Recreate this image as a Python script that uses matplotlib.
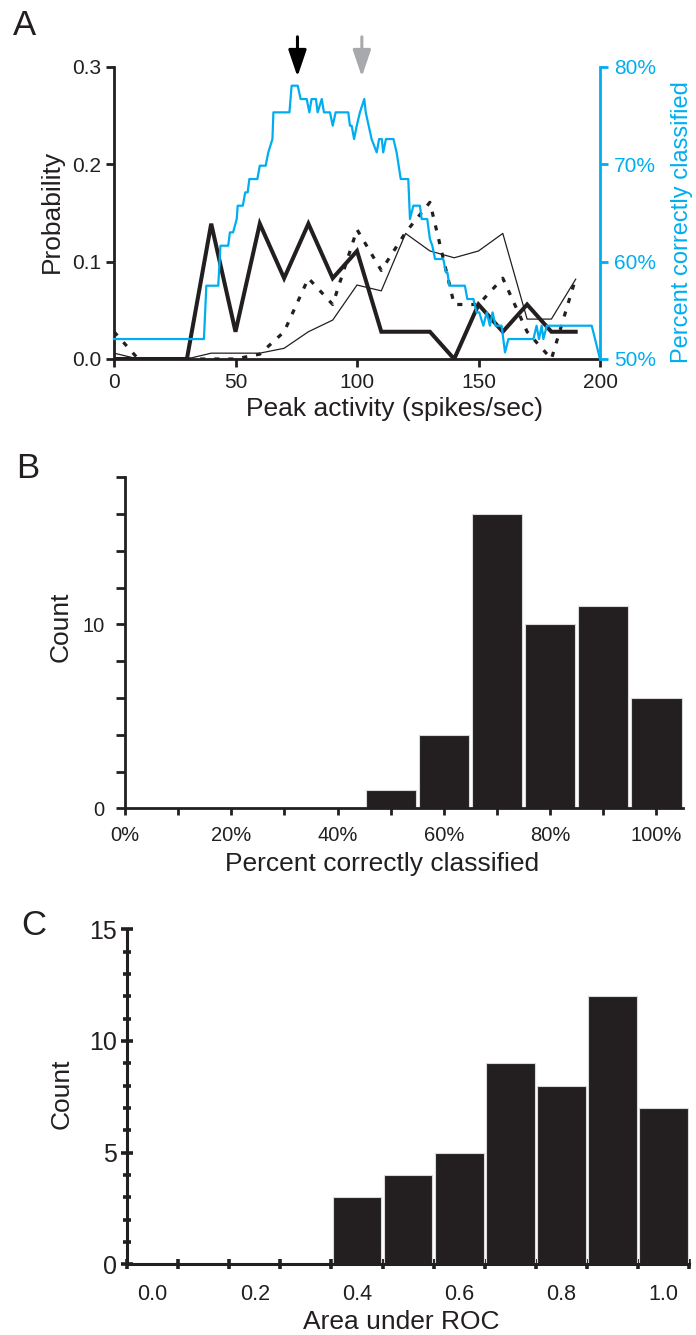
import matplotlib
matplotlib.use("Agg")
import matplotlib.pyplot as plt
import numpy as np

plt.rcParams['font.family'] = ['Liberation Sans', 'DejaVu Sans']

# ---------------- data ----------------
# Panel A: probability distributions (x = peak activity, spikes/sec)
rate_bins = [0, 10, 20, 30, 40, 50, 60, 70, 80, 90, 100, 110, 120, 130, 140, 150, 160, 170, 180, 190]
prob_thick = [0, 0, 0, 0, 0.139, 0.028, 0.139, 0.083, 0.139, 0.083, 0.111, 0.028, 0.028, 0.028, 0, 0.056, 0.028, 0.056, 0.028, 0.028]
prob_dotted = [0.028, 0, 0, 0, 0, 0, 0.005, 0.028, 0.083, 0.056, 0.133, 0.091, 0.13, 0.161, 0.056, 0.056, 0.083, 0.028, 0, 0.083]
prob_thin = [0.006, 0, 0, 0, 0.006, 0.006, 0.006, 0.011, 0.028, 0.04, 0.076, 0.07, 0.129, 0.111, 0.104, 0.111, 0.129, 0.041, 0.041, 0.082]

# Panel A: percent correctly classified vs threshold
thresh_x = [0, 37, 38, 42.9, 43.8, 47, 47.7, 49, 50.5, 50.9, 53, 54, 55, 55.7, 59, 60, 62.4, 63.5, 65.2, 65.6,
            72.2, 73.1, 75.6, 76.8, 79.3, 80.4, 81.3, 83.1, 83.8, 85.5, 86.4, 88.9, 90.0, 91.2, 96.4, 97.1, 97.8,
            98.8, 99.9, 101.2, 103.0, 103.6, 106.0, 108.1, 109.1, 110.2, 110.8, 111.9, 115.0, 116.3, 118.0, 121.1,
            121.8, 123.2, 125.9, 126.6, 128.9, 130.0, 131.0, 132.1, 135.5, 136.6, 137.2, 138.0, 144.4, 145.4, 147.9,
            149.2, 150.3, 152.0, 153.4, 154.7, 155.8, 157.0, 159.5, 160.9, 162.3, 172.6, 173.9, 174.9, 176.0, 176.7,
            178.1, 196.6, 200.0]
pct_correct = [52.05, 52.05, 57.53, 57.53, 61.64, 61.64, 63.01, 63.01, 64.38, 65.75, 65.75, 67.12, 67.12, 68.49,
               68.49, 69.86, 69.86, 71.23, 72.60, 75.34, 75.34, 78.08, 78.08, 76.71, 76.71, 75.34, 76.71, 76.71,
               75.34, 76.71, 75.34, 75.34, 73.97, 75.34, 75.34, 73.97, 73.97, 72.60, 73.97, 75.34, 76.71, 75.34,
               72.60, 71.23, 72.60, 72.60, 71.23, 72.60, 72.60, 71.23, 68.49, 68.49, 64.38, 65.75, 65.75, 64.38,
               64.38, 62.33, 61.64, 60.27, 60.27, 58.90, 58.90, 57.53, 57.53, 56.16, 56.16, 54.79, 54.79, 53.42,
               54.79, 53.42, 54.79, 53.42, 53.42, 50.68, 52.05, 52.05, 53.42, 52.05, 53.42, 52.05, 53.42, 53.42, 50.00]
arrow_black_x = 75.5
arrow_gray_x = 102.0

# Panel B histogram
pcc_centers = [50, 60, 70, 80, 90, 100]
pcc_counts = [1, 4, 16, 10, 11, 6]

# Panel C histogram
auc_centers = [0.4, 0.5, 0.6, 0.7, 0.8, 0.9, 1.0]
auc_counts = [3, 4, 5, 9, 8, 12, 7]

# ---------------- style ----------------
BLACK = '#231f20'
BLUE = '#00aeef'
GRAY = '#a7a9ac'
W, H = 696, 1335

fig = plt.figure(figsize=(W / 100, H / 100), dpi=100)


def rect(l, t, r, b):
    return [l / W, 1 - b / H, (r - l) / W, (b - t) / H]


# ---------------- Panel A ----------------
ax = fig.add_axes(rect(114, 67, 600, 359))
ax.plot(rate_bins, prob_thin, color=BLACK, lw=0.9, zorder=2)
ax.plot(rate_bins, prob_dotted, color=BLACK, lw=2.3, linestyle=(0, (1.6, 2.8)), dash_capstyle='butt', zorder=2)
ax.plot(rate_bins, prob_thick, color=BLACK, lw=2.9, solid_joinstyle='miter', zorder=2)
ax.set_xlim(0, 200)
ax.set_ylim(0, 0.3)
ax.set_xticks([0, 50, 100, 150, 200])
ax.set_yticks([0, 0.1, 0.2, 0.3])
ax.set_yticklabels(['0.0', '0.1', '0.2', '0.3'])
for s in ['top', 'right']:
    ax.spines[s].set_visible(False)
for s in ['left', 'bottom']:
    ax.spines[s].set_linewidth(2.0)
    ax.spines[s].set_color(BLACK)
ax.tick_params(axis='both', direction='out', length=6, width=2.0, colors=BLACK, labelsize=15, pad=3)
ax.tick_params(axis='x', pad=4)
ax.set_xlabel('Peak activity (spikes/sec)', fontsize=19, color=BLACK, va='baseline')
ax.xaxis.set_label_coords((394 - 114) / 486, (359 - 416) / 292)
ax.set_ylabel('Probability', fontsize=19, color=BLACK, va='baseline')
ax.yaxis.set_label_coords((59 - 114) / 486, (359 - 211) / 292)

ax2 = ax.twinx()
ax2.plot(thresh_x, pct_correct, color=BLUE, lw=1.6, clip_on=False, zorder=3)
ax2.set_ylim(50, 80)
ax2.set_yticks([50, 60, 70, 80])
ax2.set_yticklabels(['50%', '60%', '70%', '80%'])
for s in ['top', 'left', 'bottom']:
    ax2.spines[s].set_visible(False)
ax2.spines['right'].set_color(BLUE)
ax2.spines['right'].set_linewidth(2.0)
ax2.tick_params(axis='y', direction='out', length=6, width=2.0, colors=BLUE, labelsize=15, pad=4)
ax2.set_ylabel('Percent correctly classified', fontsize=17, color=BLUE, va='baseline', rotation=90)
ax2.yaxis.set_label_coords((688 - 114) / 486, (359 - 222) / 292)

for xa, col in [(arrow_black_x, 'black'), (arrow_gray_x, GRAY)]:
    ax.annotate('', xy=(xa, 0.290), xytext=(xa, 0.331), xycoords='data', textcoords='data',
                arrowprops=dict(arrowstyle='-|>,head_length=0.65,head_width=0.22', mutation_scale=25,
                                lw=2.2, color=col, shrinkA=0, shrinkB=0),
                annotation_clip=False)

fig.text(13 / W, 1 - 35 / H, 'A', fontsize=25, color=BLACK, ha='left', va='baseline')

# ---------------- Panel B ----------------
bx = fig.add_axes(rect(125, 477.3, 683, 808.3))
bx.bar(pcc_centers, pcc_counts, width=9.45, color=BLACK, edgecolor='#d9d9d9', linewidth=0.8, zorder=2)
bx.set_xlim(0, 105)
bx.set_ylim(0, 18)
bx.set_xticks(np.arange(0, 101, 10))
bx.set_xticklabels(['0%', '', '20%', '', '40%', '', '60%', '', '80%', '', '100%'])
bx.set_yticks(np.arange(0, 19, 2))
bx.set_yticklabels(['0', '', '', '', '', '10', '', '', '', ''])
for s in ['top', 'right']:
    bx.spines[s].set_visible(False)
for s in ['left', 'bottom']:
    bx.spines[s].set_linewidth(2.0)
    bx.spines[s].set_color(BLACK)
bx.tick_params(axis='y', direction='out', length=6.5, width=2.0, colors=BLACK, labelsize=14.5, pad=8)
bx.tick_params(axis='x', direction='out', length=5, width=2.0, colors=BLACK, labelsize=14.5, pad=8)
bx.set_xlabel('Percent correctly classified', fontsize=19, color=BLACK, va='baseline')
bx.xaxis.set_label_coords((382 - 125) / 558, (808.3 - 871) / 331)
bx.set_ylabel('Count', fontsize=19, color=BLACK, va='baseline')
bx.yaxis.set_label_coords((67.6 - 125) / 558, (808.3 - 626.7) / 331)

fig.text(16 / W, 1 - 478 / H, 'B', fontsize=25, color=BLACK, ha='left', va='baseline')

# ---------------- Panel C ----------------
cx = fig.add_axes(rect(127, 929.3, 689.3, 1264.3))
cx.bar(auc_centers, auc_counts, width=0.095, color=BLACK, edgecolor='#d9d9d9', linewidth=0.8, zorder=2)
cx.set_xlim(-0.05, 1.05)
cx.set_ylim(0, 15)
cx.set_xticks([0.0, 0.2, 0.4, 0.6, 0.8, 1.0])
cx.set_xticklabels(['0.0', '0.2', '0.4', '0.6', '0.8', '1.0'])
cx.set_xticks(np.arange(-0.05, 1.06, 0.1), minor=True)
cx.set_yticks([0, 5, 10, 15])
cx.set_yticks(np.arange(0, 16, 1), minor=True)
for s in ['top', 'right']:
    cx.spines[s].set_visible(False)
for s in ['left', 'bottom']:
    cx.spines[s].set_linewidth(2.2)
    cx.spines[s].set_color(BLACK)
cx.tick_params(axis='x', which='major', length=0, colors=BLACK, labelsize=15.5, pad=14)
cx.tick_params(axis='x', which='minor', direction='inout', length=7, width=2.6, colors=BLACK)
cx.tick_params(axis='y', which='major', direction='inout', length=9, width=2.6, colors=BLACK, labelsize=18, pad=3)
cx.tick_params(axis='y', which='minor', direction='inout', length=6, width=2.6, colors=BLACK)
cx.set_xlabel('Area under ROC', fontsize=19, color=BLACK, va='baseline')
cx.xaxis.set_label_coords((400.8 - 127) / 562.3, (1264.3 - 1329) / 335)
cx.set_ylabel('Count', fontsize=19, color=BLACK, va='baseline')
cx.yaxis.set_label_coords((68.6 - 127) / 562.3, (1264.3 - 1093.5) / 335)

fig.text(21 / W, 1 - 935 / H, 'C', fontsize=25, color=BLACK, ha='left', va='baseline')

fig.savefig('out.png', dpi=100)
